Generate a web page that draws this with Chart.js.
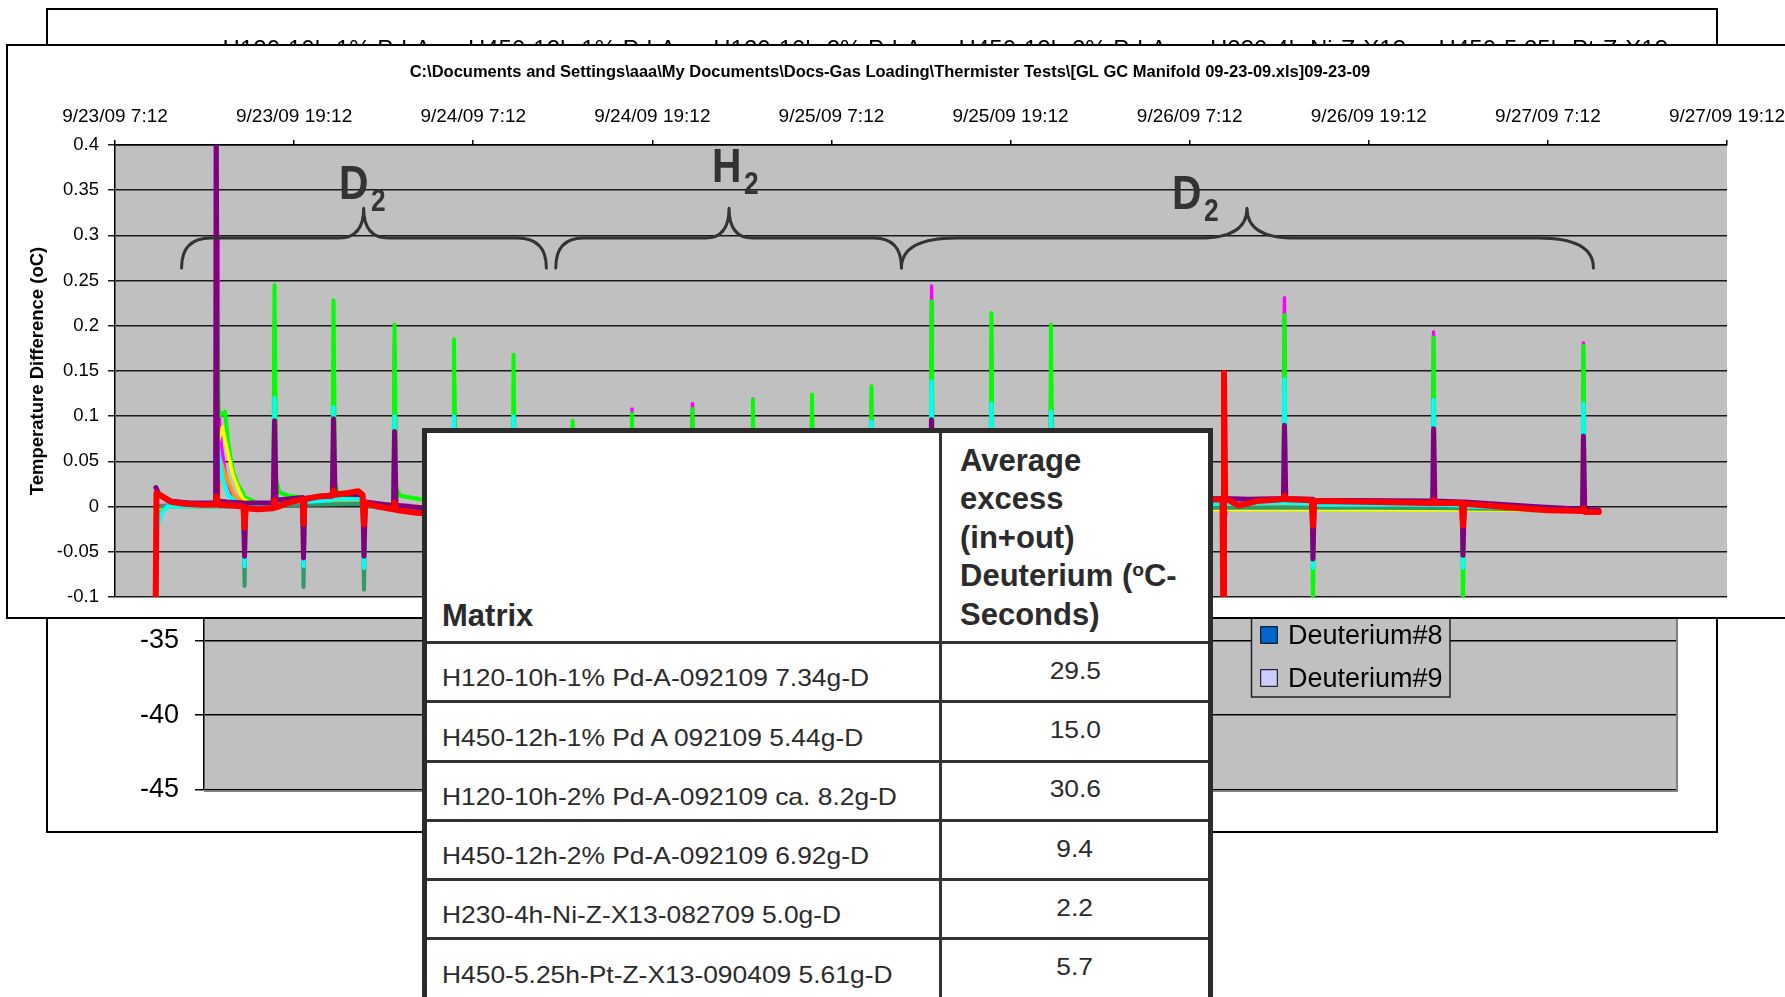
<!DOCTYPE html>
<html>
<head>
<meta charset="utf-8">
<title>GL GC Manifold 09-23-09</title>
<script src="https://cdn.jsdelivr.net/npm/chart.js@4.4.1/dist/chart.umd.min.js"></script>
<style>
  html, body { margin: 0; padding: 0; background: #fff; }
  body { width: 1785px; height: 997px; overflow: hidden; position: relative;
         font-family: "Liberation Sans", Arial, sans-serif; }
  .frame { position: absolute; box-sizing: border-box; border: 2px solid #000; background: #fff; }
  #backFrame { left: 46px; top: 8px; width: 1672px; height: 825px; }
  #backCanvas { position: absolute; left: 48px; top: 10px; }
  #frontFrame { left: 6px; top: 44px; width: 1800px; height: 575px; }
  #frontCanvas { position: absolute; left: -6px; top: 46px; }

  #tbl { position: absolute; left: 422px; top: 428px; width: 791px; height: 600px;
         box-sizing: border-box; border: 5px solid #2b2b2b; border-bottom: none;
         background: #fff; color: #2b2b2b; }
  #tbl .hdr, #tbl .row { display: flex; box-sizing: border-box; border-bottom: 3px solid #333; }
  #tbl .hdr { height: 211px; }
  #tbl .row { height: 59.3px; }
  #tbl .c1 { width: 515px; flex: none; box-sizing: border-box; border-right: 3px solid #333;
             padding-left: 15px; display: flex; align-items: flex-end; }
  #tbl .c2 { flex: 1; box-sizing: border-box; display: flex; }
  #tbl .hdr .c1 { font-weight: bold; font-size: 31px; line-height: 38.4px; padding-bottom: 6px; }
  #tbl .hdr .c2 { font-weight: bold; font-size: 31px; line-height: 38.4px; padding-left: 18px;
                  padding-bottom: 7px; align-items: flex-end; white-space: nowrap; }
  #tbl .hdr sup { font-size: 0.62em; vertical-align: 0.5em; line-height: 0; }
  #tbl .row .c1 { font-size: 24px; line-height: 28px; padding-bottom: 8px; }
  #tbl .row .c2 { font-size: 24px; line-height: 28px; align-items: center; justify-content: center;
                  padding-bottom: 3px; }
  #tbl .row span { display: inline-block; white-space: nowrap; transform: scaleX(1.1); }
  #tbl .row .c1 span { transform-origin: left center; }
</style>
</head>
<body>
<div class="frame" id="backFrame"></div>
<canvas id="backCanvas" width="1668" height="821"></canvas>
<div class="frame" id="frontFrame"></div>
<canvas id="frontCanvas" width="1792" height="571"></canvas>
<div id="tbl">
  <div class="hdr">
    <div class="c1">Matrix</div>
    <div class="c2"><div>Average<br>excess<br>(in+out)<br>Deuterium (<sup>o</sup>C-<br>Seconds)</div></div>
  </div>
</div>

<script>
// ---- Thermistor run: time axis in hours after 9/23/09 7:12 ----
const dateLabels = ['9/23/09 7:12', '9/23/09 19:12', '9/24/09 7:12', '9/24/09 19:12', '9/25/09 7:12',
                    '9/25/09 19:12', '9/26/09 7:12', '9/26/09 19:12', '9/27/09 7:12', '9/27/09 19:12'];
const tempTickLabels = ['-0.1', '-0.05', '0', '0.05', '0.1', '0.15', '0.2', '0.25', '0.3', '0.35', '0.4'];

// ---- Temperature difference traces, [hours, °C] ----
const traceRed = [
  [2.72,-0.12],[2.78,0.015],[3.2,0.011],[3.8,0.005],[4.6,0.003],[5.8,0.002],[6.72,0.002],[6.8,0.011],[6.95,0.002],
  [7.8,0.001],[8.6,0.0],[8.68,-0.023],[8.76,-0.002],[9.6,-0.003],[10.6,-0.002],[10.69,0.007],[10.8,-0.001],
  [11.6,0.004],[12.56,0.008],[12.63,-0.019],[12.7,0.008],[13.6,0.011],[14.56,0.012],[14.64,0.018],[14.74,0.013],
  [15.6,0.015],[16.3,0.017],[16.58,0.013],[16.68,-0.02],[16.78,0.004],[17.6,0.0],[18.64,-0.003],[18.73,0.004],
  [18.84,-0.004],[20.2,-0.007],[21.5,-0.008],[22.71,-0.008],[26.7,-0.007],[30.66,-0.006],[38.69,-0.005],
  [46.7,-0.004],[54.7,-0.003],[62.71,0.0],[68.5,0.004],[72.5,0.007],[74.2,0.008],[74.25,-0.12],[74.3,0.148],
  [74.38,0.009],[75.3,0.001],[76.5,0.006],[78.25,0.008],[78.35,0.012],[78.45,0.008],[80.18,0.007],[80.26,-0.021],
  [80.34,0.006],[84.5,0.005],[88.25,0.004],[88.34,0.007],[88.44,0.004],[90.23,0.004],[90.31,-0.021],[90.4,0.003],
  [93.5,-0.001],[96,-0.004],[98.3,-0.005],[98.38,-0.002],[98.48,-0.006],[99.42,-0.006]
];
const tracePurple = [
  [2.74,0.021],[2.95,0.013],[3.6,0.006],[5.0,0.004],[6.74,0.004],[6.78,0.46],[6.86,0.006],[7.5,0.005],[8.6,0.004],
  [8.68,-0.055],[8.76,0.004],[10.6,0.004],[10.69,0.095],[10.79,0.007],[12.56,0.01],[12.63,-0.057],[12.71,0.009],
  [14.56,0.013],[14.64,0.097],[14.74,0.014],[16.6,0.013],[16.68,-0.055],[16.77,0.005],[18.66,0.001],[18.73,0.083],
  [18.83,0.001],[22.65,-0.004],[22.71,0.08],[22.8,-0.004],[26.65,-0.003],[26.7,0.078],[26.79,-0.003],[40,-0.003],
  [54.64,-0.001],[54.7,0.096],[54.79,-0.001],[58.66,0.0],[58.72,0.08],[58.8,0.0],[62.65,0.002],[62.71,0.08],
  [62.8,0.002],[72,0.008],[74.3,0.009],[76,0.008],[78.28,0.009],[78.35,0.09],[78.44,0.009],[80.2,0.008],
  [80.26,-0.058],[80.35,0.007],[88.28,0.006],[88.34,0.086],[88.43,0.006],[90.25,0.005],[90.31,-0.054],[90.4,0.005],
  [95,0.0],[98.32,-0.003],[98.38,0.078],[98.47,-0.003],[99.42,-0.004]
];
const traceCyan = [
  [2.76,-0.032],[2.9,-0.02],[3.1,-0.008],[3.5,0.0],[6.74,0.0],[6.8,0.09],[6.95,0.06],[7.2,0.03],[7.6,0.012],
  [8.2,0.004],[8.6,0.003],[8.68,-0.066],[8.76,0.002],[10.6,0.002],[10.69,0.12],[10.78,0.004],[12.56,0.005],
  [12.63,-0.066],[12.72,0.005],[14.56,0.007],[14.64,0.11],[14.74,0.008],[16.6,0.008],[16.68,-0.068],[16.78,0.002],
  [18.65,0.0],[18.73,0.1],[18.83,0.0],[22.65,-0.003],[22.71,0.1],[22.8,-0.003],[26.65,-0.003],[26.7,0.1],
  [26.79,-0.003],[50.6,-0.002],[50.68,0.094],[50.76,-0.002],[54.64,-0.001],[54.7,0.139],[54.79,-0.001],
  [58.66,-0.001],[58.72,0.114],[58.8,-0.001],[62.65,0.0],[62.71,0.105],[62.8,0.0],[74,0.003],[78.28,0.004],
  [78.35,0.141],[78.44,0.004],[80.2,0.003],[80.26,-0.068],[80.35,0.002],[88.28,0.002],[88.34,0.118],[88.43,0.002],
  [90.25,0.001],[90.31,-0.068],[90.4,0.0],[98.32,-0.004],[98.38,0.114],[98.47,-0.004],[99.42,-0.004]
];
const traceTeal = [
  [3.0,0.0],[8.6,0.0],[8.68,-0.088],[8.76,0.0],[12.56,0.002],[12.63,-0.089],[12.72,0.002],[16.6,0.003],
  [16.68,-0.092],[16.78,0.0],[20,-0.002],[40,-0.002],[80.2,-0.001],[80.26,-0.06],[80.34,-0.001],[90.25,-0.002],
  [90.31,-0.06],[90.4,-0.002],[99.42,-0.004]
];
const traceOrange = [
  [3.0,0.0],[6.9,0.0],[7.1,0.05],[7.5,0.03],[8.0,0.012],[8.6,0.004],[11,0.001],[13,0.004],[15.5,0.006],
  [16.6,0.004],[18,-0.001],[30,-0.004],[62,-0.002],[74.3,0.002],[80,0.001],[99.42,-0.005]
];
const traceYellow = [
  [3.0,-0.001],[6.74,0.0],[6.9,0.07],[7.2,0.088],[7.5,0.065],[7.9,0.035],[8.3,0.018],[8.6,0.008],[9.5,0.001],
  [12.6,0.003],[14.6,0.005],[16.5,0.006],[18.7,0.001],[26,-0.002],[99.42,-0.004]
];
const traceMagenta = [
  [3.0,0.001],[6.74,0.002],[6.84,0.3],[6.9,0.12],[7.1,0.07],[7.4,0.035],[7.8,0.015],[8.3,0.005],[10.6,0.003],
  [10.69,0.208],[10.79,0.004],[14.56,0.006],[14.64,0.15],[14.74,0.007],[18.65,0.002],[18.73,0.18],[18.84,0.002],
  [22.65,-0.002],[22.71,0.172],[22.82,-0.002],[26.64,-0.002],[26.7,0.08],[26.8,-0.002],[30.6,-0.002],
  [30.66,0.09],[30.75,-0.002],[34.58,-0.002],[34.64,0.108],[34.72,-0.002],[38.63,-0.002],[38.69,0.114],
  [38.77,-0.002],[42.68,-0.002],[42.74,0.119],[42.82,-0.002],[46.64,-0.002],[46.7,0.122],[46.78,-0.002],
  [50.62,-0.002],[50.68,0.12],[50.76,-0.002],[54.64,-0.001],[54.71,0.244],[54.8,-0.001],[58.66,-0.001],
  [58.72,0.19],[58.8,-0.001],[62.65,0.0],[62.71,0.178],[62.8,0.0],[74.2,0.004],[74.32,-0.02],[74.5,0.003],
  [78.28,0.004],[78.35,0.231],[78.44,0.004],[88.28,0.002],[88.34,0.193],[88.43,0.002],[98.32,-0.004],
  [98.38,0.181],[98.47,-0.004],[99.42,-0.005]
];
const traceGreen = [
  [2.76,-0.022],[3.0,-0.008],[3.4,0.0],[6.74,0.0],[6.8,0.3],[6.95,0.1],[7.37,0.105],[7.6,0.068],[7.93,0.037],
  [8.3,0.022],[8.6,0.014],[8.68,-0.04],[8.76,0.01],[9.5,0.004],[10.6,0.004],[10.69,0.245],[10.8,0.03],[11.0,0.016],
  [11.6,0.012],[12.56,0.01],[12.63,-0.04],[12.72,0.008],[14.56,0.008],[14.64,0.228],[14.75,0.025],[15.0,0.012],
  [16.6,0.01],[16.68,-0.045],[16.78,0.004],[18.65,0.002],[18.73,0.201],[18.84,0.02],[19.1,0.012],[20.5,0.008],
  [22.65,0.003],[22.71,0.185],[22.82,0.006],[26.64,0.0],[26.7,0.168],[26.8,0.0],[30.6,-0.002],[30.66,0.095],
  [30.75,-0.002],[34.58,-0.002],[34.64,0.103],[34.72,-0.002],[38.63,-0.002],[38.69,0.108],[38.77,-0.002],
  [42.68,-0.002],[42.74,0.118],[42.82,-0.002],[46.64,-0.002],[46.7,0.124],[46.78,-0.002],[50.62,-0.002],
  [50.68,0.133],[50.76,-0.002],[54.64,-0.001],[54.71,0.227],[54.8,-0.001],[58.66,-0.001],[58.72,0.214],
  [58.8,-0.001],[62.65,0.0],[62.71,0.201],[62.8,0.0],[74.2,0.001],[74.4,-0.004],[75,-0.002],[78.28,-0.002],
  [78.35,0.212],[78.44,-0.002],[80.2,-0.003],[80.26,-0.105],[80.35,-0.003],[88.28,-0.003],[88.34,0.187],
  [88.43,-0.003],[90.25,-0.003],[90.31,-0.105],[90.4,-0.003],[98.32,-0.005],[98.38,0.178],[98.47,-0.005],
  [99.42,-0.006]
];

// ---- Gas periods marked with braces: [from h, to h, cusp h] and label anchors [h, °C] ----
const gasNames = ['D', 'H', 'D'];
const gasSpans = [[4.46, 28.9, 16.66], [29.53, 52.69, 41.14], [52.69, 99.05, 75.84]];
const gasLabelAt = [[15.0, 0.34], [40.0, 0.3595], [70.82, 0.329]];
const braceLevels = { line: 0.297, tip: 0.264, cusp: 0.33 };

// ---- Summary per matrix ----
const matrixNames = ['H120-10h-1% Pd-A-092109 7.34g-D', 'H450-12h-1% Pd A 092109 5.44g-D',
                     'H120-10h-2% Pd-A-092109 ca. 8.2g-D', 'H450-12h-2% Pd-A-092109 6.92g-D',
                     'H230-4h-Ni-Z-X13-082709 5.0g-D', 'H450-5.25h-Pt-Z-X13-090409 5.61g-D'];
const excessValues = [29.5, 15.0, 30.6, 9.4, 2.2, 5.7];

// ---- Per-matrix comparison chart ----
const matrixCategories = ['H120-10h-1% Pd-A', 'H450-12h-1% Pd-A', 'H120-10h-2% Pd-A',
                          'H450-12h-2% Pd-A', 'H230-4h-Ni-Z-X13', 'H450-5.25h-Pt-Z-X13'];
const runLabels = ['Deuterium#8', 'Deuterium#9'];
const runColors = ['#0066CC', '#CCCCFF'];
const backTickLabels = ['-45', '-40', '-35', '-30', '-25', '-20', '-15', '-10', '-5', '0'];

Chart.defaults.font.family = "'Liberation Sans', Arial, sans-serif";
Chart.defaults.color = '#000';

const plotFill = {
  id: 'plotFill',
  beforeDraw(chart, args, opts) {
    const { ctx, chartArea: a } = chart;
    ctx.save();
    ctx.fillStyle = opts.color || '#C0C0C0';
    ctx.fillRect(a.left, a.top, a.right - a.left, a.bottom - a.top);
    ctx.restore();
  },
  afterDraw(chart, args, opts) {
    if (!opts.edge) return;
    const { ctx, chartArea: a } = chart;
    ctx.save();
    ctx.strokeStyle = opts.edge;
    ctx.lineWidth = 2;
    ctx.beginPath();
    ctx.moveTo(a.right + 1, a.top);
    ctx.lineTo(a.right + 1, a.bottom + 1.5);
    ctx.lineTo(a.left, a.bottom + 1.5);
    ctx.stroke();
    ctx.restore();
  }
};

// legend box for the comparison chart
const runLegend = {
  id: 'runLegend',
  afterDraw(chart, args, o) {
    const ctx = chart.ctx;
    const items = chart.data.datasets;
    const a = chart.chartArea;
    const right = a.right - o.offsetRight, bottom = a.bottom - o.offsetBottom;
    const left = right - o.width, top = bottom - items.length * o.rowH - 6;
    ctx.save();
    ctx.fillStyle = '#C0C0C0';
    ctx.fillRect(left, top, o.width, bottom - top);
    ctx.strokeStyle = '#222';
    ctx.lineWidth = 1.5;
    ctx.strokeRect(left, top, o.width, bottom - top);
    ctx.font = '27px "Liberation Sans", Arial, sans-serif';
    ctx.textBaseline = 'alphabetic';
    items.forEach((d, i) => {
      const base = bottom - (items.length - 1 - i) * o.rowH - 9.7;
      ctx.fillStyle = d.backgroundColor;
      ctx.fillRect(left + 9.2, base - 17.6, 16.6, 16.6);
      ctx.strokeStyle = '#000';
      ctx.lineWidth = 1;
      ctx.strokeRect(left + 9.2, base - 17.6, 16.6, 16.6);
      ctx.fillStyle = '#000';
      ctx.fillText(d.label, left + 36.5, base);
    });
    ctx.restore();
  }
};

new Chart(document.getElementById('backCanvas'), {
  type: 'bar',
  data: {
    labels: matrixCategories,
    datasets: runLabels.map((l, i) => ({ label: l, data: [], backgroundColor: runColors[i], borderColor: '#000', borderWidth: 1 }))
  },
  options: {
    responsive: false, animation: false,
    layout: { padding: { left: 0, right: 40, top: 0, bottom: 41.5 } },
    plugins: {
      legend: { display: false }, tooltip: { enabled: false },
      plotFill: { color: '#C0C0C0', edge: '#808080' },
      runLegend: { offsetRight: 226, offsetBottom: 92.5, width: 198.5, rowH: 43 }
    },
    scales: {
      x: {
        position: 'top',
        grid: { display: false, drawTicks: false },
        border: { display: false },
        ticks: { font: { size: 24 }, color: '#000', padding: 55, maxRotation: 0, autoSkip: false },
        afterFit(s) { s.height = 110; s.paddingLeft = 0; s.paddingRight = 0; }
      },
      y: {
        min: -45, max: 0,
        ticks: { stepSize: 5, font: { size: 27 }, color: '#000', padding: 16,
                 callback: (v, i) => backTickLabels[i] },
        grid: { color: '#000', lineWidth: 1.5, tickLength: 9 },
        border: { color: '#000', width: 1.5 },
        afterFit(s) { s.width = 156; }
      }
    }
  },
  plugins: [plotFill, runLegend]
});

// braces and gas labels over the trace plot
const gasBraces = {
  id: 'gasBraces',
  afterDatasetsDraw(chart) {
    const { ctx, scales: { x, y } } = chart;
    const yL = y.getPixelForValue(braceLevels.line);
    const yT = y.getPixelForValue(braceLevels.tip);
    const yC = y.getPixelForValue(braceLevels.cusp);
    ctx.save();
    ctx.strokeStyle = '#333';
    ctx.lineWidth = 3;
    ctx.lineCap = 'round';
    ctx.lineJoin = 'round';
    gasSpans.forEach(([a, b, c]) => {
      const x0 = x.getPixelForValue(a), x1 = x.getPixelForValue(b), xc = x.getPixelForValue(c);
      const w = x1 - x0, re = 0.08 * w, rc = 0.068 * w;
      ctx.beginPath();
      ctx.moveTo(x0, yT);
      ctx.quadraticCurveTo(x0, yL, x0 + re, yL);
      ctx.lineTo(xc - rc, yL);
      ctx.quadraticCurveTo(xc, yL, xc, yC);
      ctx.quadraticCurveTo(xc, yL, xc + rc, yL);
      ctx.lineTo(x1 - re, yL);
      ctx.quadraticCurveTo(x1, yL, x1, yT);
      ctx.stroke();
    });
    ctx.fillStyle = '#333';
    ctx.textBaseline = 'alphabetic';
    gasNames.forEach((n, i) => {
      const px = x.getPixelForValue(gasLabelAt[i][0]), py = y.getPixelForValue(gasLabelAt[i][1]);
      ctx.save();
      ctx.translate(px, py);
      ctx.scale(0.85, 1);
      ctx.font = 'bold 48px "Liberation Sans", Arial, sans-serif';
      ctx.fillText(n, 0, 0);
      const wN = ctx.measureText(n).width;
      ctx.font = 'bold 31px "Liberation Sans", Arial, sans-serif';
      ctx.fillText('2', wN + 3, 12);
      ctx.restore();
    });
    ctx.restore();
  }
};

// first entry is drawn on top
const traces = [
  { name: 'red', data: traceRed, color: '#FF0000', width: 6 },
  { name: 'purple', data: tracePurple, color: '#800080', width: 5 },
  { name: 'cyan', data: traceCyan, color: '#00FFFF', width: 4 },
  { name: 'teal', data: traceTeal, color: '#339966', width: 4 },
  { name: 'orange', data: traceOrange, color: '#FF9900', width: 3.5 },
  { name: 'yellow', data: traceYellow, color: '#FFFF00', width: 3.5 },
  { name: 'green', data: traceGreen, color: '#00FF00', width: 4 },
  { name: 'magenta', data: traceMagenta, color: '#FF00FF', width: 3.5 }
];

new Chart(document.getElementById('frontCanvas'), {
  type: 'line',
  data: {
    datasets: traces.map(t => ({
      label: t.name,
      data: t.data.map(([h, v]) => ({ x: h, y: v })),
      borderColor: t.color, borderWidth: t.width,
      pointRadius: 0, tension: 0, fill: false, clip: 0,
      borderJoinStyle: 'round', borderCapStyle: 'round'
    }))
  },
  options: {
    responsive: false, animation: false,
    layout: { padding: { left: 0, right: 0, top: 0, bottom: 15 } },
    plugins: {
      legend: { display: false }, tooltip: { enabled: false },
      plotFill: { color: '#C0C0C0' },
      title: {
        display: true,
        text: 'C:\\Documents and Settings\\aaa\\My Documents\\Docs-Gas Loading\\Thermister Tests\\[GL GC Manifold 09-23-09.xls]09-23-09',
        font: { size: 16.5, weight: 'bold' }, color: '#000',
        padding: { top: 17, bottom: 0 }
      }
    },
    scales: {
      x: {
        type: 'linear', position: 'top', min: 0, max: 108,
        ticks: { stepSize: 12, font: { size: 19 }, color: '#000', padding: 12, maxRotation: 0,
                 autoSkip: false, callback: (v, i) => dateLabels[i] },
        grid: { drawOnChartArea: false, drawTicks: true, tickLength: 5, color: '#000', lineWidth: 1.5 },
        border: { color: '#000', width: 1.5 },
        afterFit(s) { s.height = 62.2; s.paddingLeft = 0; s.paddingRight = 0; }
      },
      y: {
        min: -0.1, max: 0.4,
        ticks: { stepSize: 0.05, font: { size: 18.5 }, color: '#000', padding: 9,
                 callback: (v, i) => tempTickLabels[i] },
        grid: { color: '#1a1a1a', lineWidth: 1.5, tickLength: 7 },
        border: { color: '#000', width: 1.5 },
        title: { display: true, text: 'Temperature Difference (oC)', font: { size: 18.5, weight: 'bold' },
                 color: '#000', padding: { top: 33, bottom: 0 } },
        afterFit(s) { s.width = 121; }
      },
      y2: {
        type: 'linear', position: 'right', display: true,
        ticks: { display: false }, grid: { display: false }, border: { display: false },
        afterFit(s) { s.width = 59; }
      }
    }
  },
  plugins: [plotFill, gasBraces]
});

// summary rows
const tbl = document.getElementById('tbl');
matrixNames.forEach((name, i) => {
  const row = document.createElement('div');
  row.className = 'row';
  const c1 = document.createElement('div'); c1.className = 'c1';
  const s1 = document.createElement('span'); s1.textContent = name; c1.appendChild(s1);
  const c2 = document.createElement('div'); c2.className = 'c2';
  const s2 = document.createElement('span'); s2.textContent = excessValues[i].toFixed(1); c2.appendChild(s2);
  row.appendChild(c1); row.appendChild(c2);
  tbl.appendChild(row);
});
</script>
</body>
</html>
